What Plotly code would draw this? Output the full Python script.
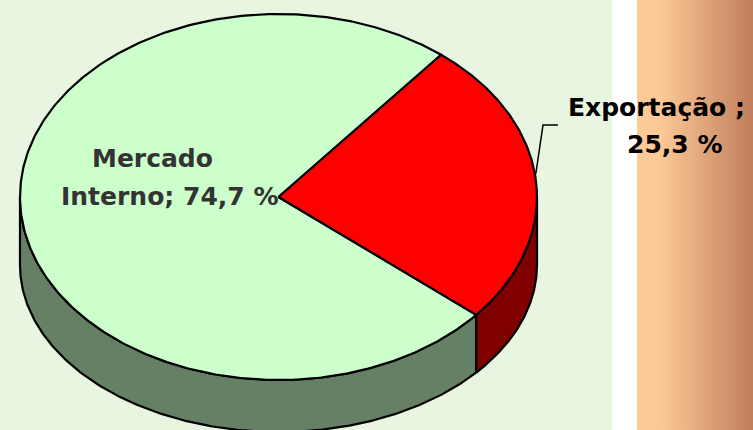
import numpy as np
import plotly.graph_objects as go

# ---- data ----
labels = ["Mercado Interno", "Exportação"]
values = [74.7, 25.3]
top_colors = ["#ccffcc", "#ff0000"]
side_colors = ["#668066", "#800000"]
label_lines = [["Mercado", "Interno; 74,7 %"], ["Exportação ;", "25,3 %"]]
label_colors = ["#333333", "#000000"]

# ---- geometry (style/layout) ----
W, H = 753, 430
CX, CY, RX, RY = 278.5, 197.0, 258.5, 183.0       # top ellipse
BCY, BRY = 265.0, 167.0                           # bottom ellipse (perspective)
START_DEG = 51.0                                  # where first slice starts, ccw

def top_pt(a):
    r = np.radians(a)
    return CX + RX * np.cos(r), CY - RY * np.sin(r)

def bot_pt(a):
    r = np.radians(a)
    return CX + RX * np.cos(r), BCY - BRY * np.sin(r)

fig = go.Figure()

# background gradient strip
fig.add_trace(go.Scatter(
    x=[637, 753, 753, 637, 637], y=[0, 0, H, H, 0], mode="lines",
    line=dict(width=0), fill="toself",
    fillgradient=dict(type="horizontal",
                      colorscale=[[0, "#fdcb98"], [0.2, "#fcc996"], [1, "#c07e5b"]]),
    hoverinfo="skip", showlegend=False))

total = sum(values)
angles = []
a0 = START_DEG
for v in values:
    a1 = a0 + v / total * 360.0
    angles.append((a0, a1))
    a0 = a1

# sides (visible front part: 180..360 deg)
for (s, e), col in zip(angles, side_colors):
    for k in (0, 360):
        lo, hi = max(s, 180 + k), min(e, 360 + k)
        if hi <= lo:
            continue
        t = np.linspace(lo, hi, 200)
        tx, ty = top_pt(t)
        bx, by = bot_pt(t[::-1])
        xs = np.concatenate([tx, bx, tx[:1]])
        ys = np.concatenate([ty, by, ty[:1]])
        fig.add_trace(go.Scatter(x=xs, y=ys, mode="lines", fill="toself",
                                 fillcolor=col, line=dict(color="black", width=2.2),
                                 hoverinfo="skip", showlegend=False))

# tops
for (s, e), col in zip(angles, top_colors):
    t = np.linspace(s, e, 400)
    tx, ty = top_pt(t)
    xs = np.concatenate([[CX], tx, [CX]])
    ys = np.concatenate([[CY], ty, [CY]])
    fig.add_trace(go.Scatter(x=xs, y=ys, mode="lines", fill="toself",
                             fillcolor=col, line=dict(color="black", width=2.2),
                             hoverinfo="skip", showlegend=False))

# leader line for second slice
mid = (angles[1][0] + angles[1][1]) / 2
lx, ly = top_pt(mid)
fig.add_trace(go.Scatter(x=[lx, 543, 558], y=[ly - 6, 125, 125], mode="lines",
                         line=dict(color="black", width=1.5),
                         hoverinfo="skip", showlegend=False))

# labels
label_pos = [[(152.5, 158), (169, 196)], [(656, 107), (674.5, 144)]]
annotations = []
for lines, poss, c in zip(label_lines, label_pos, label_colors):
    for txt, (x, y) in zip(lines, poss):
        annotations.append(dict(x=x, y=y, xref="x", yref="y", text=txt,
                                showarrow=False, xanchor="center", yanchor="middle",
                                font=dict(family="DejaVu Sans", size=25, color=c,
                                          weight="bold")))

fig.update_layout(
    width=W, height=H, margin=dict(l=0, r=0, t=0, b=0),
    paper_bgcolor="white", plot_bgcolor="rgba(0,0,0,0)",
    xaxis=dict(range=[0, W], visible=False, fixedrange=True),
    yaxis=dict(range=[H, 0], visible=False, fixedrange=True),
    shapes=[dict(type="rect", xref="x", yref="y", x0=0, x1=612, y0=0, y1=H,
                 fillcolor="#e8f5e1", line=dict(width=0), layer="below")],
    annotations=annotations,
)

fig.write_html("out.html", config={"displayModeBar": False},
               post_script="document.body.style.margin='0';"
                           "document.body.style.overflow='hidden';")
